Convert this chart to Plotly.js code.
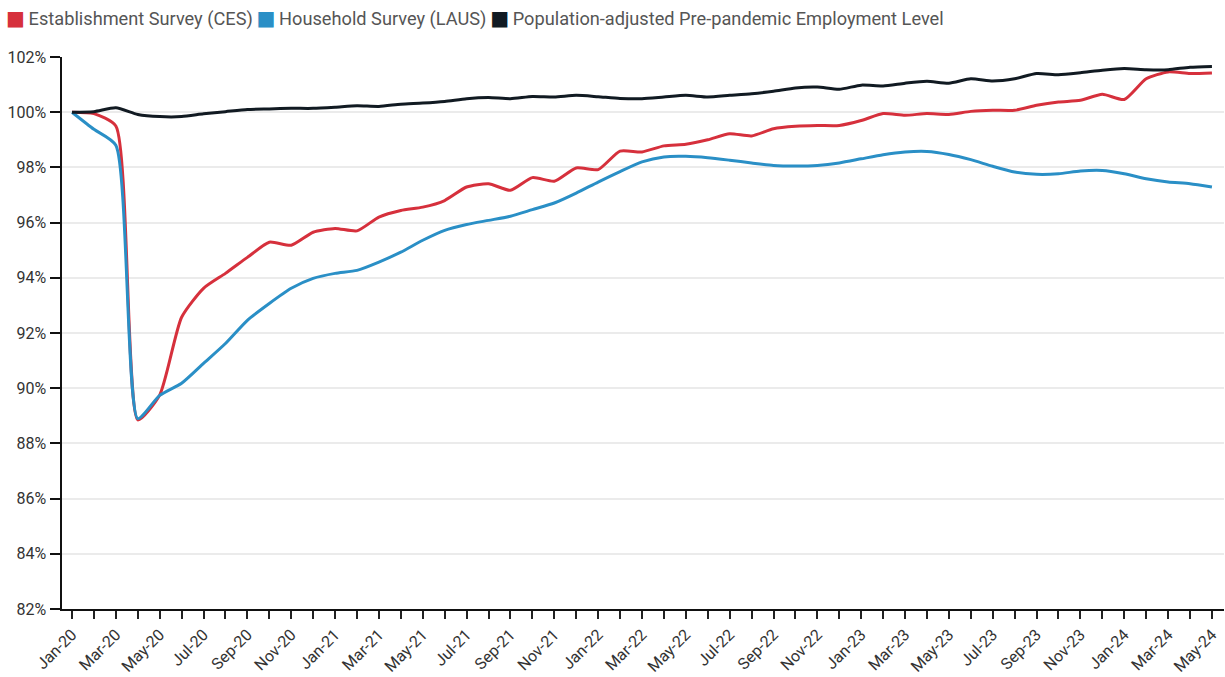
<!DOCTYPE html>
<html>
<head>
<meta charset="utf-8">
<script src="https://cdn.plot.ly/plotly-3.0.1.min.js"></script>
<style>html,body{margin:0;padding:0;background:#fff}#chart{width:1225px;height:677px}</style>
</head>
<body>
<div id="chart"></div>
<script>
const months = ["Jan-20","Feb-20","Mar-20","Apr-20","May-20","Jun-20","Jul-20","Aug-20","Sep-20","Oct-20","Nov-20","Dec-20",
"Jan-21","Feb-21","Mar-21","Apr-21","May-21","Jun-21","Jul-21","Aug-21","Sep-21","Oct-21","Nov-21","Dec-21",
"Jan-22","Feb-22","Mar-22","Apr-22","May-22","Jun-22","Jul-22","Aug-22","Sep-22","Oct-22","Nov-22","Dec-22",
"Jan-23","Feb-23","Mar-23","Apr-23","May-23","Jun-23","Jul-23","Aug-23","Sep-23","Oct-23","Nov-23","Dec-23",
"Jan-24","Feb-24","Mar-24","Apr-24","May-24"];

const ces = [100,99.95,99.5,88.85,89.75,92.57,93.62,94.16,94.74,95.29,95.18,95.65,
95.79,95.70,96.2,96.44,96.56,96.8,97.29,97.41,97.17,97.63,97.5,97.98,
97.92,98.59,98.56,98.78,98.84,99.0,99.22,99.14,99.4,99.49,99.52,99.52,
99.7,99.95,99.89,99.95,99.92,100.03,100.07,100.07,100.25,100.37,100.43,100.65,
100.46,101.21,101.46,101.4,101.42];

const laus = [100,99.38,98.8,88.9,89.74,90.18,90.9,91.62,92.46,93.07,93.62,93.98,
94.16,94.27,94.57,94.93,95.36,95.72,95.93,96.08,96.23,96.47,96.71,97.07,
97.47,97.85,98.2,98.38,98.4,98.35,98.26,98.16,98.07,98.05,98.07,98.16,
98.31,98.46,98.56,98.58,98.47,98.28,98.04,97.83,97.75,97.77,97.87,97.89,
97.77,97.59,97.47,97.41,97.29];

const popAdj = [100,100.02,100.16,99.92,99.84,99.84,99.94,100.02,100.1,100.12,100.14,100.14,
100.18,100.23,100.21,100.29,100.33,100.39,100.49,100.53,100.49,100.57,100.55,100.61,
100.56,100.5,100.49,100.55,100.61,100.55,100.61,100.67,100.76,100.88,100.91,100.83,
100.98,100.95,101.05,101.12,101.05,101.21,101.13,101.21,101.4,101.36,101.43,101.52,
101.58,101.54,101.54,101.63,101.66];

const seriesNames = ["Establishment Survey (CES)","Household Survey (LAUS)","Population-adjusted Pre-pandemic Employment Level"];
const seriesColors = ["#d6303c","#2a8fc6","#111a22"];
const yTicks = [82,84,86,88,90,92,94,96,98,100,102];

const idx = months.map((m,i)=>i);
const tickText = months.map((m,i)=> i%2===0 ? m : "");
const allSeries = [ces, laus, popAdj];

const traces = allSeries.map((s,k)=>({
  x: idx, y: s, type:'scatter', mode:'lines', name: seriesNames[k],
  line:{color: seriesColors[k], width:3, shape:'spline', smoothing:0.6},
  showlegend:false, hoverinfo:'skip'
}));

// Legend drawn as a single line of real text with coloured square glyphs
const legendText = seriesNames.map((n,k)=>
  `<span style="color:${seriesColors[k]};font-size:20px;font-family:'DejaVu Sans'">■</span>\u2009${n}`).join('\u2009');

const layout = {
  width:1225, height:677,
  margin:{l:62, r:1, t:57, b:68},
  paper_bgcolor:'#fff', plot_bgcolor:'#fff',
  font:{family:'Roboto, sans-serif', size:16, color:'#333'},
  showlegend:false,
  annotations:[{xref:'paper', yref:'paper', x:-58/1162, y:1+39/552, xanchor:'left', yanchor:'middle',
    text: legendText, showarrow:false, align:'left',
    font:{family:'Roboto, sans-serif', size:18.2, color:'#555'}}],
  xaxis:{range:[-0.456,52.55], tickvals: idx, ticktext: tickText, tickangle:-45,
    ticks:'outside', ticklen:8, tickwidth:2, tickcolor:'#222',
    showline:true, linecolor:'#111', linewidth:2, showgrid:false, zeroline:false,
    tickfont:{size:16, color:'#333'}, fixedrange:true},
  yaxis:{range:[82,102], tickvals: yTicks, ticktext: yTicks.map(v=>v+'%'),
    ticks:'outside', ticklen:10, tickwidth:2, tickcolor:'#111',
    showline:true, linecolor:'#111', linewidth:2.5, showgrid:true, gridcolor:'#ebebeb', gridwidth:2,
    zeroline:false, tickfont:{size:16, color:'#333'}, fixedrange:true}
};

Plotly.newPlot('chart', traces, layout, {displayModeBar:false, staticPlot:true});
</script>
</body>
</html>
